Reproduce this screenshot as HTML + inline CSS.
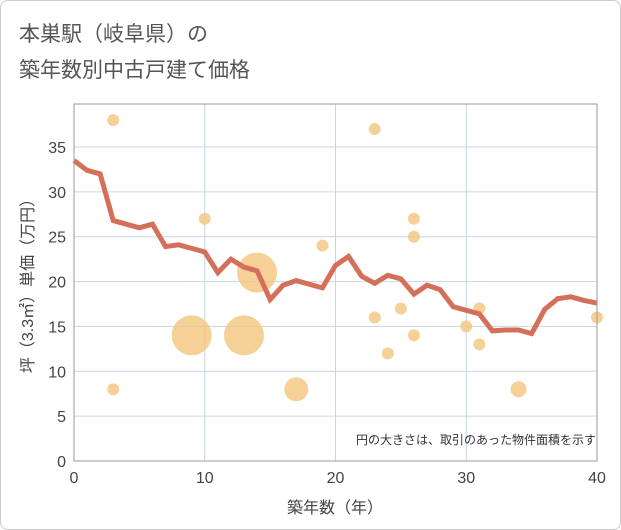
<!DOCTYPE html>
<html><head><meta charset="utf-8"><style>
body{margin:0;background:#fff;font-family:"Liberation Sans","Noto Sans CJK JP",sans-serif}
#wrap{position:relative;width:619px;height:528px;border:1px solid #ccc;border-radius:8px;overflow:hidden;background:#fff}
</style></head><body>
<div id="wrap">
<svg id="svg" width="621" height="530">
<text x="18" y="40" font-size="21" fill="#555">本巣駅（岐阜県）の</text>
<text x="18" y="76" font-size="21" fill="#555">築年数別中古戸建て価格</text>
<g id="grid"></g><g id="bubbles"></g><g id="line"></g><g id="axes"></g>
<text x="595" y="443" font-size="12" fill="#333" text-anchor="end">円の大きさは、取引のあった物件面積を示す</text>
<text x="334" y="512" font-size="16" fill="#444" text-anchor="middle">築年数（年）</text>
<text transform="translate(32,281) rotate(-90)" font-size="16" fill="#444" text-anchor="middle">坪（3.3㎡）単価（万円）</text>
</svg></div>
<script>
const lineYears=[0,1,2,3,4,5,6,7,8,9,10,11,12,13,14,15,16,17,18,19,20,21,22,23,24,25,26,27,28,29,30,31,32,33,34,35,36,37,38,39,40];
const lineValues=[33.5,32.4,32.0,26.8,26.4,26.0,26.4,23.9,24.1,23.7,23.3,21.0,22.5,21.6,21.2,18.0,19.6,20.1,19.7,19.3,21.8,22.8,20.6,19.8,20.7,20.3,18.6,19.6,19.1,17.2,16.8,16.4,14.5,14.6,14.6,14.2,16.9,18.1,18.3,17.9,17.6];
const bubbleX=[3,3,9,10,13,14,17,19,23,23,24,25,26,26,26,30,31,31,34,40];
const bubbleY=[38,8,14,27,14,21,8,24,37,16,12,17,27,25,14,15,17,13,8,16];
const bubbleR=[6,6,20,6,20,20,12,6,6,6,6,6,6,6,6,6,6,6,8,6];
const xTicks=[0,10,20,30,40];
const yTicks=[0,5,10,15,20,25,30,35];
const L=73,R=596,T=103,B=460;
const sx=v=>L+(v/40)*(R-L);
const sy=v=>B-(v/35)*(B-146);
const NS="http://www.w3.org/2000/svg";
function mk(t,a,p){const e=document.createElementNS(NS,t);for(const k in a)e.setAttribute(k,a[k]);p.appendChild(e);return e;}
const g=document.getElementById('grid'),ax=document.getElementById('axes');
yTicks.forEach(v=>{const l=mk('line',{x1:L,x2:R,y1:sy(v),y2:sy(v),stroke:'#c9d6e3','stroke-width':1},g);

const t=mk('text',{x:L-8,y:sy(v)+6,'font-size':16,fill:'#444','text-anchor':'end'},ax);t.textContent=v;
});
xTicks.forEach(v=>{const l=mk('line',{x1:sx(v),x2:sx(v),y1:T,y2:B,stroke:'#c9d6e3','stroke-width':1},g);

const t=mk('text',{x:sx(v),y:B+22,'font-size':16,fill:'#444','text-anchor':'middle'},ax);t.textContent=v;
});
const fr=mk('rect',{x:L,y:T,width:R-L,height:B-T,fill:'none',stroke:'#999','stroke-width':1},ax);

const bg=document.getElementById('bubbles');
bubbleX.forEach((x,i)=>{const c=mk('circle',{cx:sx(x),cy:sy(bubbleY[i]),r:bubbleR[i],fill:'#f3c57e','fill-opacity':0.8},bg);
});
const p=mk('polyline',{points:lineYears.map((x,i)=>sx(x)+','+sy(lineValues[i])).join(' '),fill:'none',stroke:'#d4705a','stroke-width':5,'stroke-linejoin':'miter'},document.getElementById('line'));

</script>
</body></html>
